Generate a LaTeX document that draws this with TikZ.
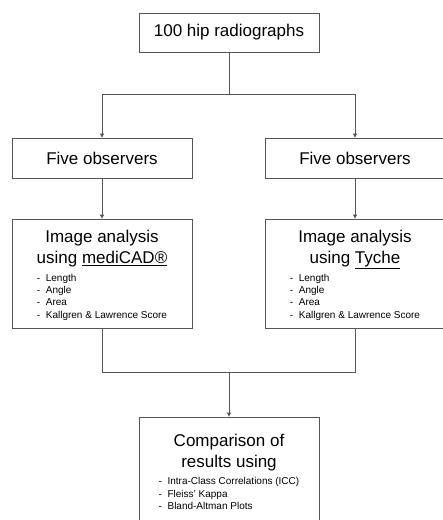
\documentclass[tikz,border=0pt]{standalone}
\usepackage{fontspec}
\setmainfont{Liberation Sans}
\usepackage{xcolor}
\usepackage{tikz}
\usetikzlibrary{arrows.meta,positioning}
\definecolor{boxline}{RGB}{85,85,85}

\newcommand{\measurelist}[1]{{\fontsize{10}{12.3}\selectfont\begin{tabular}[t]{@{}l@{}}#1\end{tabular}}}

\begin{document}
\begin{tikzpicture}[
    x=1pt, y=-1pt,
    stagebox/.style={rectangle, draw=boxline, line width=0.8pt, minimum width=180pt, inner sep=0pt, align=center, font=\fontsize{17}{21}\selectfont},
    arrow/.style={-{Triangle[length=4pt,width=4pt]}, draw=boxline, line width=0.8pt},
    link/.style={draw=boxline, line width=0.8pt}
]
\useasboundingbox (0,0) rectangle (443,520);
\clip (0,0) rectangle (443,520);

\node[stagebox, minimum height=39pt] (radio) at (229, 32.5) {100 hip radiographs};
\node[stagebox, minimum height=40pt] (obsL) at (102, 158) {Five observers};
\node[stagebox, minimum height=40pt] (obsR) at (355, 158) {Five observers};

\node[stagebox, minimum height=109pt] (imgL) at (102, 273.5) {\rule{0pt}{17pt}Image analysis\\ using \underline{mediCAD®}\\[-3pt]
  \measurelist{- \ Length\\ - \ Angle\\ - \ Area\\ - \ Kallgren \& Lawrence Score}};
\node[stagebox, minimum height=109pt] (imgR) at (355, 273.5) {\rule{0pt}{17pt}Image analysis\\ using \underline{Tyche}\\[-3pt]
  \measurelist{- \ Length\\ - \ Angle\\ - \ Area\\ - \ Kallgren \& Lawrence Score}};

\node[stagebox, minimum height=109pt] (comp) at (229, 471.5) {\rule{0pt}{17pt}Comparison of\\ results using\\[-4pt]
  \measurelist{- \ Intra-Class Correlations (ICC)\\ - \ Fleiss' Kappa\\ - \ Bland-Altman Plots}};

% split and merge points
\coordinate (split) at (229, 94);
\coordinate (merge) at (229, 372);

\draw[link] (radio.south) -- (split);
\draw[arrow] (split) -| (obsL.north);
\draw[arrow] (split) -| (obsR.north);
\draw[arrow] (obsL) -- (imgL);
\draw[arrow] (obsR) -- (imgR);
\draw[link] (imgL.south) |- (merge);
\draw[link] (imgR.south) |- (merge);
\draw[arrow] (merge) -- (comp.north);
\end{tikzpicture}
\end{document}
